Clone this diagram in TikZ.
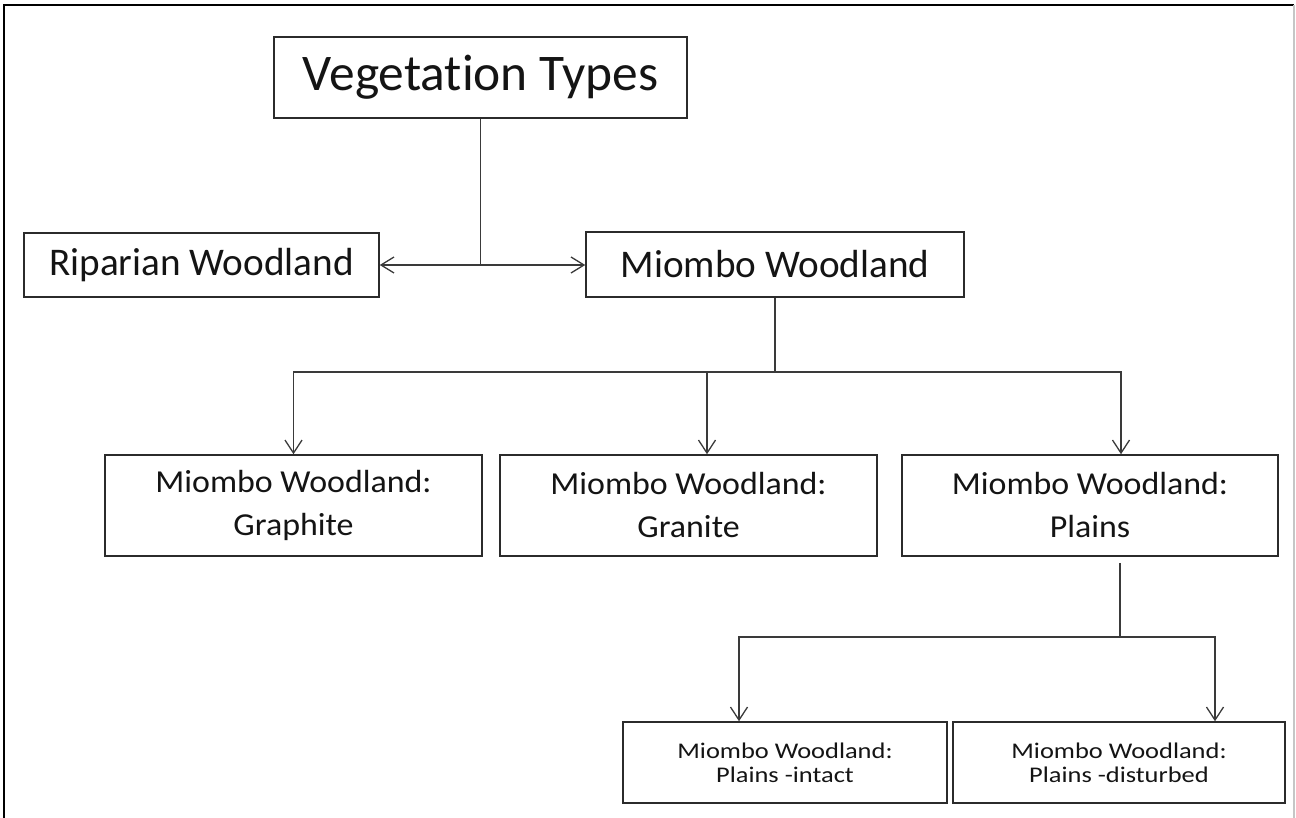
\documentclass[tikz,border=0pt]{standalone}
\usepackage{fontspec}
\setmainfont[Ligatures=NoCommon]{Carlito}
\newfontfamily\midfont[FakeStretch=1.06,Ligatures=NoCommon]{Carlito}
\newfontfamily\smallfont[FakeStretch=1.18,Ligatures=NoCommon]{Carlito}
\usetikzlibrary{arrows.meta,calc}
\definecolor{boxline}{HTML}{2B2B2B}
\definecolor{conn}{HTML}{3A3A3A}
\definecolor{txt}{HTML}{141414}
\tikzset{
  box/.style={draw=boxline, line width=0.75pt, rectangle, inner sep=0pt, align=center, text=txt},
  topbox/.style={box, minimum width=206.5pt, minimum height=40.5pt, font=\fontsize{25.7}{30}\selectfont},
  l1box/.style={box, minimum height=32pt, font=\fontsize{19.6}{23}\selectfont},
  l2box/.style={box, minimum width=188.5pt, minimum height=50.5pt, font=\midfont\fontsize{16}{21.5}\selectfont},
  l3box/.style={box, minimum height=40.5pt, font=\smallfont\fontsize{11.2}{11.8}\selectfont},
  link/.style={draw=conn, line width=0.65pt},
  arr/.style={link, -{Straight Barb[length=6.5pt,width=8.5pt,line width=0.65pt]}},
  darr/.style={link, {Straight Barb[length=6.5pt,width=8pt,line width=0.65pt]}-{Straight Barb[length=6.5pt,width=8pt,line width=0.65pt]}}
}
\begin{document}
\begin{tikzpicture}[x=0.5pt,y=-0.5pt]
\useasboundingbox (0,0) rectangle (1296,818);
% frame
\draw[black, line width=1pt] (4,818) -- (4,5) -- (1294,5);
\draw[gray!45, line width=0.6pt] (1294,5) -- (1294,818);
% nodes
\node[topbox] (veg) at (480.5,77.5) {Vegetation Types};
\node[l1box, minimum width=177.5pt] (rip) at (201.5,265) {Riparian Woodland};
\node[l1box, minimum width=189pt, minimum height=32.5pt] (mio) at (775,264.5) {Miombo Woodland};
\node[l2box] (gra) at (293.5,505.5) {Miombo Woodland:\\Graphite};
\node[l2box] (grn) at (688.5,505.5) {Miombo Woodland:\\Granite};
\node[l2box, minimum width=188pt] (pla) at (1090,505.5) {Miombo Woodland:\\Plains};
\node[l3box, minimum width=162pt] (int) at (785,762.5) {Miombo Woodland:\\Plains -intact};
\node[l3box, minimum width=166pt] (dis) at (1119,762.5) {Miombo Woodland:\\Plains -disturbed};
% connectors
\coordinate (j0) at (482,265);
\draw[link] (veg.south) -- (veg.south |- j0);
\draw[darr] (rip.east) -- (rip.east -| mio.west);
\coordinate (b1) at (775,372);
\draw[link] (mio.south) -- (b1);
\draw[arr] (b1) -| (gra.north);
\draw[arr] (b1) -| (1121,0 |- pla.north);
\draw[arr] (707,372) -- (707,0 |- grn.north);
\coordinate (b2) at (1120,637);
\draw[link] ($(pla.south)+(30,6)$) -- (b2);
\draw[arr] (b2) -| (739,0 |- int.north);
\draw[arr] (b2) -| (1215,0 |- dis.north);
\end{tikzpicture}
\end{document}
